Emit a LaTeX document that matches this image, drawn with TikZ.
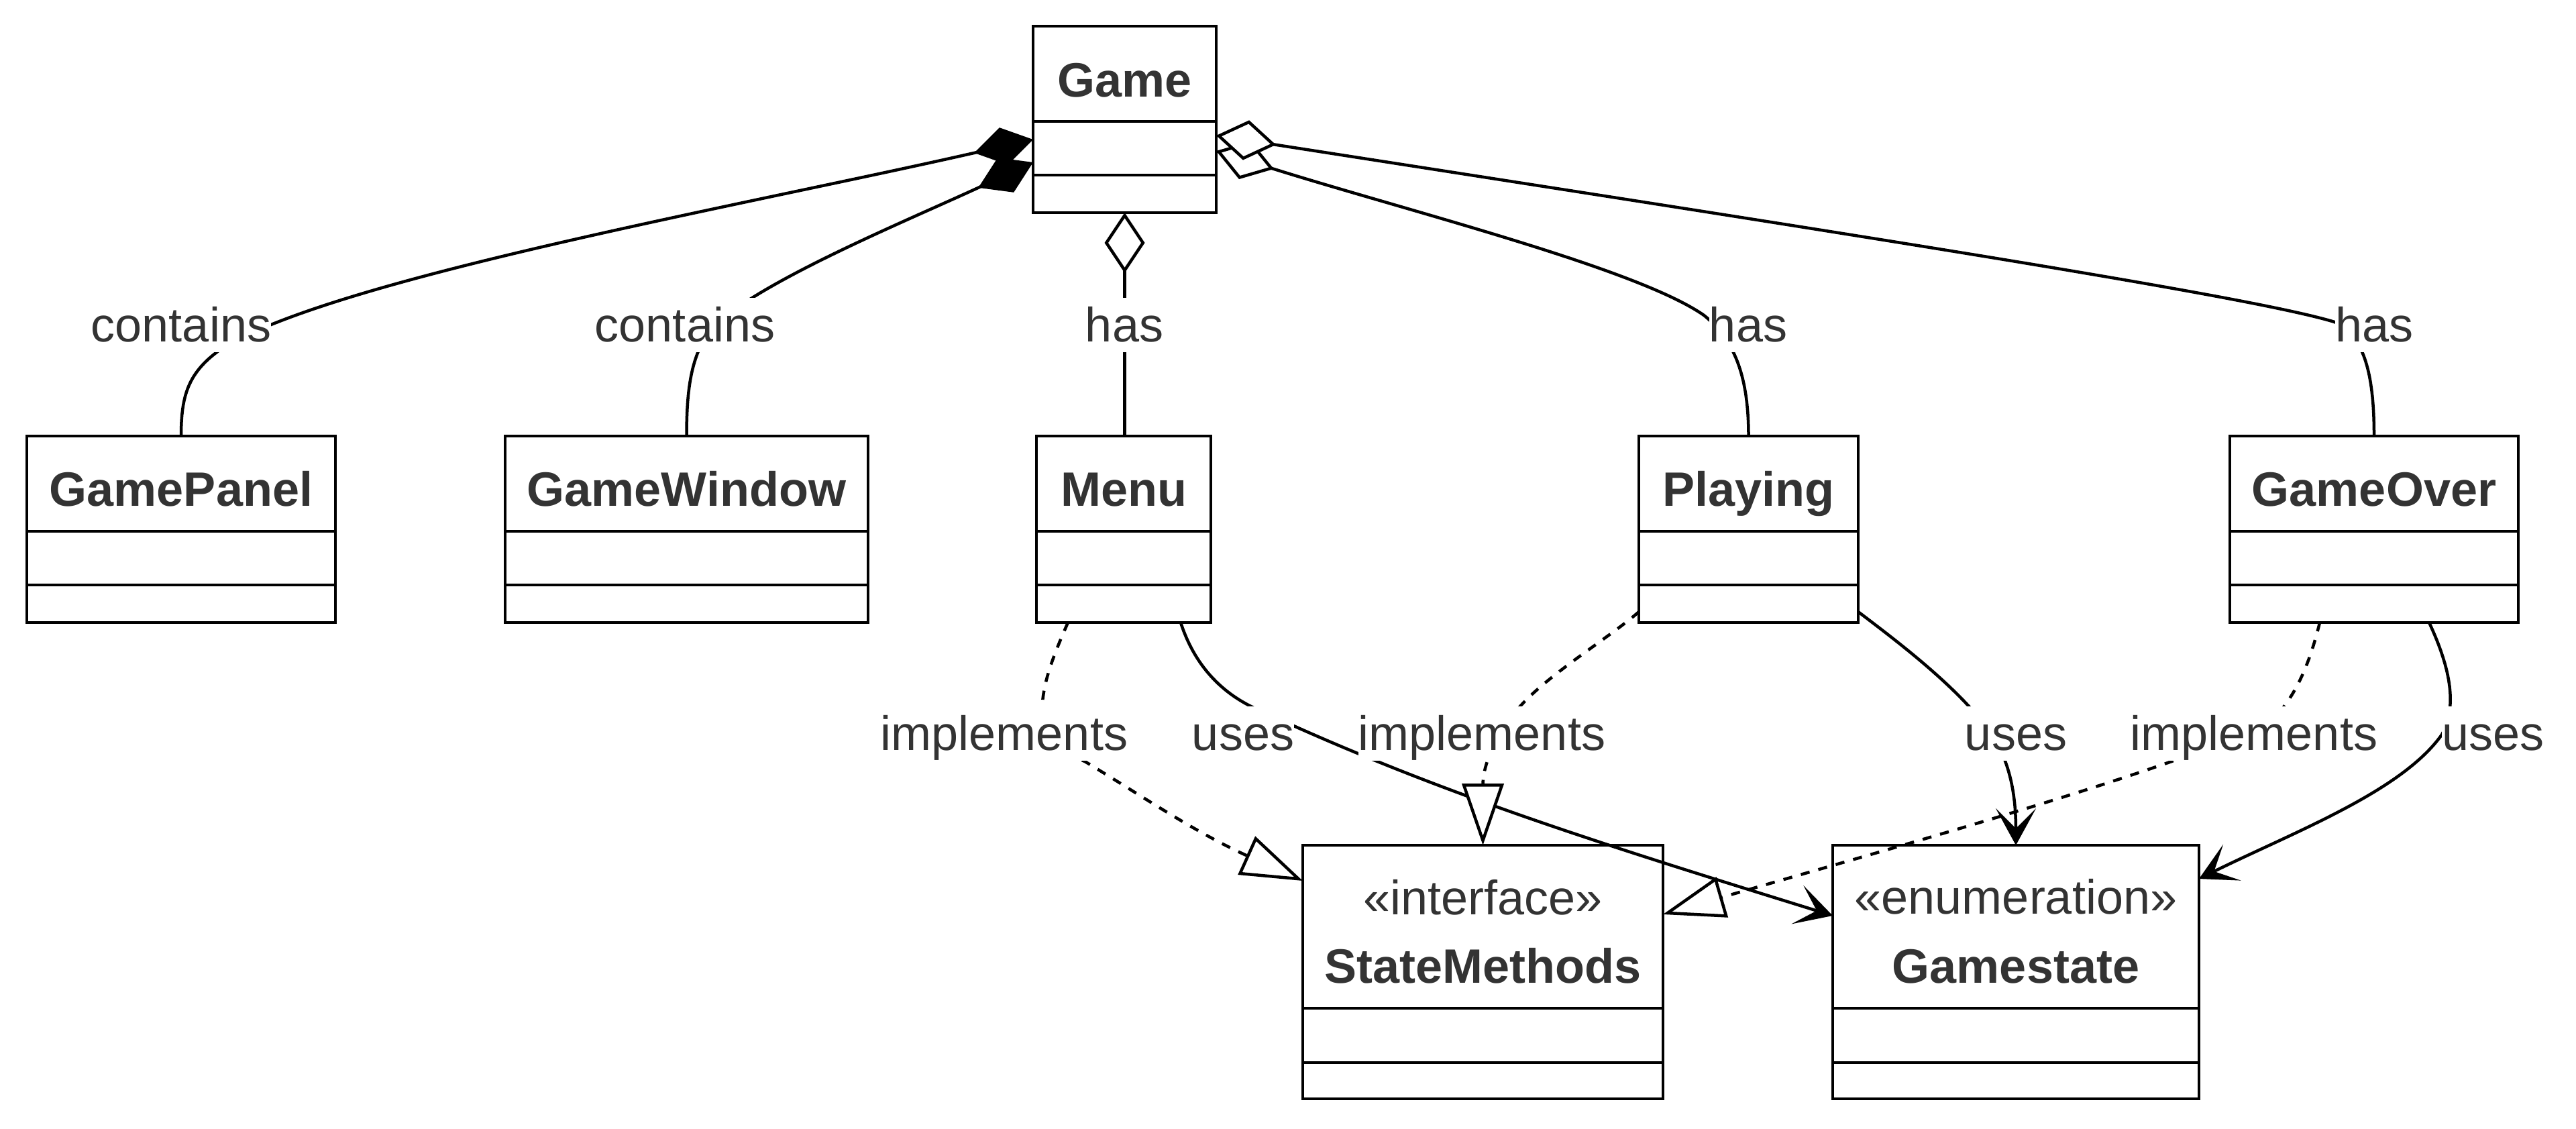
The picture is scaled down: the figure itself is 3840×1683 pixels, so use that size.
\documentclass[tikz,border=0pt]{standalone}
\usepackage{fontspec}
\setmainfont{Liberation Sans}
\usetikzlibrary{arrows.meta,calc}
\definecolor{txt}{HTML}{333333}
\begin{document}
\begin{tikzpicture}[x=1pt,y=-1pt,
  cls/.style={draw=black, fill=white, line width=4.5pt, rectangle, inner sep=0pt, outer sep=0pt, anchor=north west, minimum height=278pt},
  iface/.style={cls, minimum height=378pt},
  clstitle/.style={anchor=base, text=txt, font=\fontsize{72}{86}\selectfont\bfseries, inner sep=0pt},
  stereo/.style={anchor=base, text=txt, font=\fontsize{72}{86}\selectfont, inner sep=0pt},
  lbl/.style={anchor=base, text=txt, font=\fontsize{72}{86}\selectfont, fill=white, inner sep=0pt, text height=65pt, text depth=16pt},
  divider/.style={line width=4.5pt, draw=black},
  conn/.style={line width=4.5pt, draw=black},
  comp/.style={conn, {Diamond[length=90pt,width=57pt]}-},
  aggr/.style={conn, {Diamond[length=90pt,width=60pt,fill=white]}-},
  impl/.style={conn, dash pattern=on 13.5pt off 13.5pt, -{Triangle[length=92pt,width=62pt,fill=white]}},
  uses/.style={conn, -{Stealth[length=55pt,width=60pt,inset=30pt]}},
]
\fill[white] (0,0) rectangle (3840,1683);
\useasboundingbox (0,0) rectangle (3840,1683);

% class boxes
\node[cls, minimum width=273pt] (game) at (1540,39) {};
\node[cls, minimum width=460pt] (panel) at (40,650) {};
\node[cls, minimum width=541pt] (window) at (753,650) {};
\node[cls, minimum width=260pt] (menu) at (1545,650) {};
\node[cls, minimum width=327pt] (playing) at (2443,650) {};
\node[cls, minimum width=430pt] (over) at (3324,650) {};
\node[iface, minimum width=537pt] (sm) at (1942,1260) {};
\node[iface, minimum width=546pt] (gs) at (2732,1260) {};

\foreach \n in {game,panel,window,menu,playing,over}{
  \draw[divider] ($(\n.north west)+(0,142)$) -- ($(\n.north east)+(0,142)$);
  \draw[divider] ($(\n.north west)+(0,222)$) -- ($(\n.north east)+(0,222)$);
}
\foreach \n in {sm,gs}{
  \draw[divider] ($(\n.north west)+(0,243)$) -- ($(\n.north east)+(0,243)$);
  \draw[divider] ($(\n.north west)+(0,324)$) -- ($(\n.north east)+(0,324)$);
}

% titles
\node[clstitle] (tgame) at ($(game.north)+(0,106)$) {Game};
\node[clstitle] (tpanel) at ($(panel.north)+(0,104)$) {GamePanel};
\node[clstitle] (twindow) at ($(window.north)+(0,104)$) {GameWindow};
\node[clstitle] (tmenu) at ($(menu.north)+(0,104)$) {Menu};
\node[clstitle] (tplaying) at ($(playing.north)+(0,104)$) {Playing};
\node[clstitle] (tover) at ($(over.north)+(0,104)$) {GameOver};
\node[stereo] (ssm) at ($(sm.north)+(0,103)$) {«interface»};
\node[clstitle] (tsm) at ($(sm.north)+(0,205)$) {StateMethods};
\node[stereo] (sgs) at ($(gs.north)+(0,102)$) {«enumeration»};
\node[clstitle] (tgs) at ($(gs.north)+(0,205)$) {Gamestate};

% connectors
\draw[comp] ($(game.north west)+(0,169)$) .. controls (1100,308) and (500,415) .. (330,520) .. controls (280,555) and (270,590) .. (panel.north);
\draw[comp] ($(game.north west)+(0,203)$) .. controls (1350,330) and (1130,420) .. (1060,490) .. controls (1030,530) and (1023.5,580) .. (window.north);
\draw[aggr] (game.south) -- (game.south |- menu.north);
\draw[aggr] ($(game.north east)+(0,186)$) .. controls (2100,315) and (2440,400) .. (2540,470) .. controls (2590,510) and (2606.5,570) .. (playing.north);
\draw[aggr] ($(game.north east)+(0,163)$) .. controls (2700,340) and (3350,440) .. (3480,480) .. controls (3525,500) and (3539,560) .. (over.north);

\draw[impl] ($(menu.south west)+(47,0)$) .. controls (1560,1000) and (1553,1030) .. (1553,1070) .. controls (1553,1110) and (1580,1120) .. (1617,1135) .. controls (1700,1185) and (1780,1240) .. ($(sm.north west)+(0,53)$);
\draw[uses] ($(menu.south west)+(215,0)$) .. controls (1780,990) and (1820,1035) .. (1880,1060) .. controls (2150,1185) and (2400,1262) .. ($(gs.north west)+(0,105)$);
\draw[impl] ($(playing.south west)+(0,-16)$) .. controls (2400,950) and (2300,1010) .. (2260,1060) .. controls (2220,1110) and (2210.5,1150) .. (sm.north);
\draw[uses] ($(playing.south east)+(0,-16)$) .. controls (2820,950) and (2900,1010) .. (2950,1070) .. controls (2995,1120) and (3005,1180) .. (gs.north);
\draw[impl] ($(over.south west)+(134,0)$) .. controls (3445,980) and (3425,1040) .. (3380,1080) .. controls (3200,1160) and (2800,1270) .. ($(sm.north east)+(0,103)$);
\draw[uses] ($(over.south west)+(297,0)$) .. controls (3650,990) and (3665,1050) .. (3640,1095) .. controls (3580,1180) and (3420,1240) .. ($(gs.north east)+(0,50)$);

% labels
\node[lbl] (l1) at (270,509) {contains};
\node[lbl] (l2) at (1021,509) {contains};
\node[lbl] (l3) at (1676,509) {has};
\node[lbl] (l4) at (2606,509) {has};
\node[lbl] (l5) at (3539,509) {has};
\node[lbl] (l6) at (1497,1118) {implements};
\node[lbl] (l7) at (1853,1118) {uses};
\node[lbl] (l8) at (2209,1118) {implements};
\node[lbl] (l9) at (3005,1118) {uses};
\node[lbl] (l10) at (3360,1118) {implements};
\node[lbl] (l11) at (3716,1118) {uses};
\end{tikzpicture}
\end{document}
